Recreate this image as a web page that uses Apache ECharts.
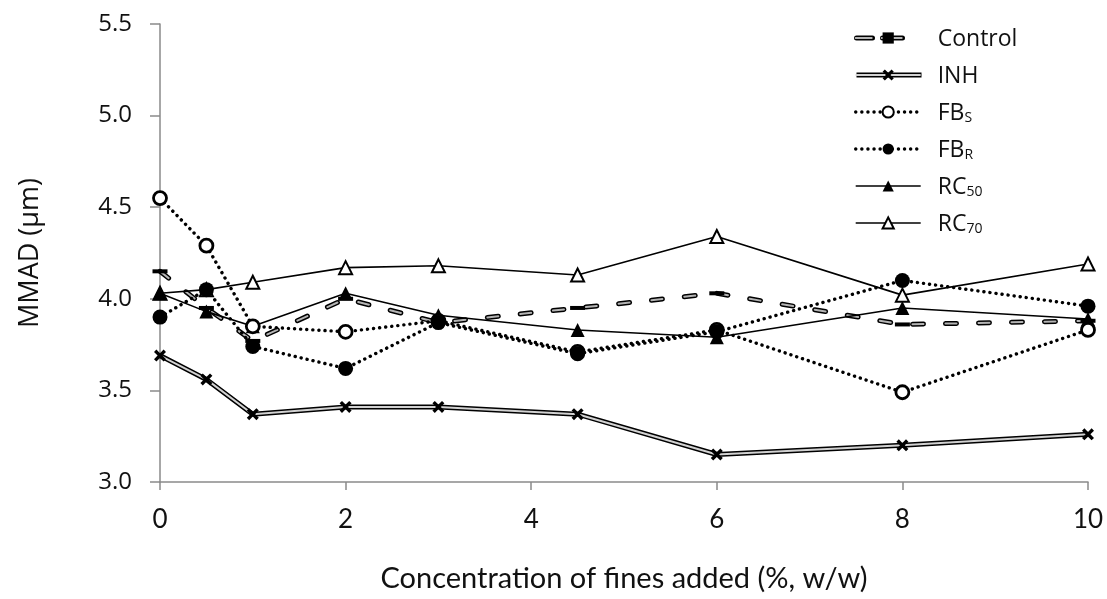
<!DOCTYPE html>
<html>
<head>
<meta charset="utf-8">
<script src="https://cdn.jsdelivr.net/npm/echarts@6/dist/echarts.min.js"></script>
<style>
  html, body { margin: 0; padding: 0; background: #fff; }
  #chart { width: 1107px; height: 599px; }
</style>
</head>
<body>
<div id="chart"></div>
<script>
// Concentration of fines added (%, w/w)
const fines = [0, 0.5, 1, 2, 3, 4.5, 6, 8, 10];

// MMAD (µm) for each formulation
const control = [4.15, 3.95, 3.77, 4.00, 3.87, 3.95, 4.03, 3.86, 3.88];
const inh     = [3.69, 3.56, 3.37, 3.41, 3.41, 3.37, 3.15, 3.20, 3.26];
const fbS     = [4.55, 4.29, 3.85, 3.82, 3.88, 3.71, 3.83, 3.49, 3.83];
const fbR     = [3.90, 4.05, 3.74, 3.62, 3.87, 3.70, 3.82, 4.10, 3.96];
const rc50    = [4.03, 3.93, 3.85, 4.03, 3.91, 3.83, 3.79, 3.95, 3.89];
const rc70    = [4.03, 4.05, 4.09, 4.17, 4.18, 4.13, 4.34, 4.02, 4.19];

// Axis ticks
const yTicks = { min: 3.0, max: 5.5, step: 0.5 };
const xTicks = { min: 0, max: 10, step: 2 };

// Legend labels (rich text, with subscripts)
const legendLabels = {
  'Control': '{m|Control}',
  'INH': '{m|INH}',
  'FBS': '{m|FB}{s|S}',
  'FBR': '{m|FB}{s|R}',
  'RC50': '{m|RC}{s|50}',
  'RC70': '{m|RC}{s|70}'
};

const pairs = vals => fines.map((x, i) => [x, vals[i]]);

const crossPath = 'path://M0,2 L2,0 L5,3 L8,0 L10,2 L7,5 L10,8 L8,10 L5,7 L2,10 L0,8 L3,5 Z';
const barPath = 'path://M0,0 L14,0 L14,7 L0,7 Z';
const dotted = { type: [0.1, 6], width: 3.4, cap: 'round', color: '#000' };
const controlDash = [11, 22];

const chart = echarts.init(document.getElementById('chart'), null, { renderer: 'canvas' });

const legendRich = {
  m: { fontFamily: 'Open Sans', fontSize: 23, lineHeight: 26, color: '#111', verticalAlign: 'bottom' },
  s: { fontFamily: 'Open Sans', fontSize: 14, lineHeight: 15, color: '#111', verticalAlign: 'bottom' }
};

const legendCommon = {
  orient: 'vertical',
  left: 849,
  top: 23,
  itemWidth: 65,
  itemHeight: 14,
  itemGap: 14,
  selectedMode: false,
  lineStyle: { width: 'inherit' },
  textStyle: { padding: [0, 0, 0, 12], rich: legendRich }
};

const option = {
  animation: false,
  backgroundColor: '#fff',
  grid: { left: 160, right: 19, top: 24, bottom: 117 },
  legend: [
    // under-layer: dark outline strokes of the two double lines
    Object.assign({}, legendCommon, {
      z: 3,
      data: [
        { name: 'Control outline', lineStyle: { type: [16, 10, 20, 40], width: 5, cap: 'round', color: '#000' }, itemStyle: { opacity: 0 } },
        { name: 'INH outline', lineStyle: { width: 5, color: '#000' }, itemStyle: { opacity: 0 } }
      ],
      formatter: () => '{m|x}',
      textStyle: { padding: [0, 0, 0, 12], rich: {
        m: Object.assign({}, legendRich.m, { color: 'rgba(0,0,0,0)' })
      } }
    }),
    Object.assign({}, legendCommon, {
      z: 4,
      data: [
        { name: 'Control', lineStyle: { type: [16, 10, 20, 40], width: 2, cap: 'round', color: '#b4b4b4' } },
        { name: 'INH', lineStyle: { width: 2, color: '#d2d2d2' } },
        { name: 'FBS' },
        { name: 'FBR' },
        { name: 'RC50' },
        { name: 'RC70' }
      ],
      formatter: name => legendLabels[name]
    })
  ],
  xAxis: {
    type: 'value',
    min: xTicks.min,
    max: xTicks.max,
    interval: xTicks.step,
    name: 'Concentration of fines added (%, w/w)',
    nameLocation: 'middle',
    nameGap: 82,
    nameTextStyle: { fontFamily: 'Lato', fontSize: 29, color: '#111' },
    axisLine: { show: true, lineStyle: { color: '#8a8a8a', width: 1.5 } },
    axisTick: { show: true, length: 8, lineStyle: { color: '#8a8a8a', width: 1.5 } },
    axisLabel: { fontFamily: 'Lato', fontSize: 26, color: '#111', margin: 25 },
    splitLine: { show: false }
  },
  yAxis: {
    type: 'value',
    min: yTicks.min,
    max: yTicks.max,
    interval: yTicks.step,
    name: 'MMAD (µm)',
    nameLocation: 'middle',
    nameRotate: 90,
    nameGap: 116,
    nameTextStyle: { fontFamily: 'Open Sans', fontSize: 27, color: '#111' },
    axisLine: { show: true, lineStyle: { color: '#8a8a8a', width: 1.5 } },
    axisTick: { show: true, length: 10, lineStyle: { color: '#8a8a8a', width: 1.5 } },
    axisLabel: { fontFamily: 'Open Sans', fontSize: 24, color: '#111', margin: 28,
      formatter: v => v.toFixed(1) },
    splitLine: { show: false }
  },
  series: [
    // INH: black outline + light inner line
    {
      name: 'INH outline', type: 'line', data: pairs(inh), z: 2,
      symbol: 'none', silent: true,
      lineStyle: { color: '#000', width: 5 }
    },
    {
      name: 'INH', type: 'line', data: pairs(inh), z: 3,
      symbol: crossPath, symbolSize: 12,
      itemStyle: { color: '#000' },
      lineStyle: { color: '#d2d2d2', width: 2 }
    },
    // Control: outlined grey dashes
    {
      name: 'Control outline', type: 'line', data: pairs(control), z: 2,
      symbol: 'none', silent: true,
      lineStyle: { color: '#000', width: 5, type: controlDash, cap: 'round' }
    },
    {
      name: 'Control', type: 'line', data: pairs(control), z: 3,
      symbol: barPath, symbolSize: [15, 8], symbolKeepAspect: true,
      itemStyle: { color: '#000' },
      lineStyle: { color: '#b4b4b4', width: 2, type: controlDash, cap: 'round' }
    },
    {
      name: 'RC70', type: 'line', data: pairs(rc70), z: 3,
      symbol: 'triangle', symbolSize: 13,
      itemStyle: { color: '#fff', borderColor: '#000', borderWidth: 2 },
      lineStyle: { color: '#000', width: 1.6 }
    },
    {
      name: 'RC50', type: 'line', data: pairs(rc50), z: 3,
      symbol: 'triangle', symbolSize: 14,
      itemStyle: { color: '#000' },
      lineStyle: { color: '#000', width: 1.6 }
    },
    {
      name: 'FBS', type: 'line', data: pairs(fbS), z: 3,
      symbol: 'circle', symbolSize: 13,
      itemStyle: { color: '#fff', borderColor: '#000', borderWidth: 2.8 },
      lineStyle: dotted
    },
    {
      name: 'FBR', type: 'line', data: pairs(fbR), z: 3,
      symbol: 'circle', symbolSize: 15,
      itemStyle: { color: '#000' },
      lineStyle: dotted
    }
  ]
};

chart.setOption(option);
</script>
</body>
</html>
